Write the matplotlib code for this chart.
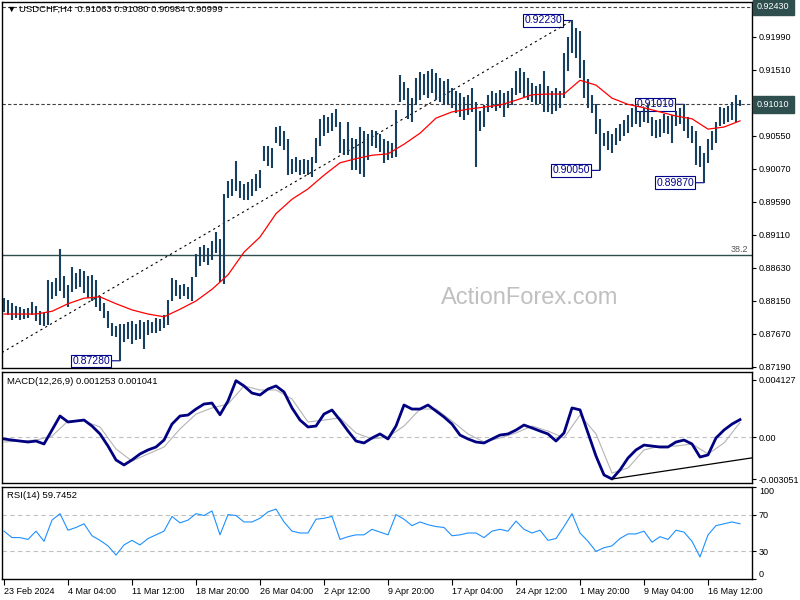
import numpy as np
import matplotlib
matplotlib.use('Agg')
import matplotlib.pyplot as plt
import matplotlib.transforms as mtransforms

plt.rcParams['font.family'] = ['Liberation Sans', 'DejaVu Sans']

# USDCHF H4, one entry per bar pair, prices in pips (x 1e-4)
bar_high = [
    8819, 8816, 8812, 8808, 8806, 8804, 8805, 8814, 8808, 8800, 8798,
    8846, 8842, 8848, 8890, 8852, 8838, 8864, 8856, 8862, 8858,
    8852, 8853, 8845, 8822, 8812, 8800, 8783, 8778, 8782, 8782,
    8785, 8786, 8782, 8788, 8785, 8787, 8785, 8790, 8789, 8795,
    8816, 8848, 8845, 8838, 8840, 8835, 8850, 8884, 8894, 8897,
    8892, 8902, 8915, 8905, 8970, 8990, 8993, 9018, 8990, 8985,
    8988, 8992, 9000, 9005, 9040, 9040, 9038, 9068, 9070, 9062,
    9050, 9022, 9025, 9020, 9022, 9020, 9025, 9052, 9080, 9085,
    9082, 9088, 9094, 9075, 9050, 9075, 9052, 9050, 9068, 9062,
    9058, 9064, 9062, 9058, 9050, 9048, 9045, 9093, 9143, 9133,
    9125, 9110, 9140, 9148, 9145, 9150, 9152, 9146, 9140, 9135,
    9138, 9125, 9120, 9118, 9112, 9115, 9125, 9105, 9092, 9100,
    9115, 9120, 9118, 9122, 9118, 9120, 9125, 9150, 9154, 9148,
    9140, 9132, 9128, 9130, 9150, 9128, 9120, 9125, 9120, 9175,
    9199, 9223, 9212, 9208, 9166, 9138, 9115, 9102, 9080, 9060,
    9062, 9058, 9066, 9072, 9078, 9085, 9095, 9098, 9092, 9096,
    9100, 9082, 9078, 9080, 9087, 9084, 9086, 9092, 9096, 9101,
    9082, 9070, 9062, 9040, 9030, 9050, 9062, 9075, 9097, 9095,
    9098, 9104, 9114, 9108,
]
bar_low = [
    8799, 8795, 8788, 8790, 8787, 8789, 8790, 8795, 8786, 8780, 8778,
    8780, 8818, 8822, 8830, 8820, 8806, 8828, 8832, 8835, 8826,
    8820, 8815, 8806, 8800, 8790, 8775, 8764, 8762, 8728, 8755,
    8760, 8752, 8758, 8760, 8745, 8765, 8768, 8768, 8771, 8775,
    8780, 8815, 8822, 8818, 8822, 8818, 8815, 8850, 8866, 8872,
    8868, 8875, 8885, 8842, 8840, 8965, 8968, 8975, 8965, 8962,
    8962, 8967, 8975, 8980, 9018, 9012, 9008, 9045, 9040, 9035,
    8998, 9000, 9002, 8998, 9000, 8998, 8995, 9015, 9040, 9055,
    9060, 9062, 9068, 9030, 9027, 9028, 9006, 9006, 9000, 8996,
    9020, 9040, 9038, 9032, 9015, 9020, 9023, 9024, 9105, 9108,
    9080, 9075, 9100, 9108, 9115, 9110, 9118, 9108, 9105, 9100,
    9102, 9095, 9088, 9082, 9078, 9085, 9090, 9010, 9062, 9068,
    9090, 9095, 9092, 9095, 9083, 9095, 9100, 9115, 9118, 9112,
    9108, 9105, 9100, 9102, 9090, 9090, 9087, 9092, 9095, 9110,
    9150, 9175, 9168, 9140, 9110, 9095, 9088, 9058, 9005, 9040,
    9035, 9030, 9042, 9048, 9055, 9060, 9068, 9072, 9068, 9075,
    9074, 9055, 9052, 9054, 9060, 9058, 9045, 9070, 9072, 9062,
    9052, 9045, 9013, 9010, 8987, 9015, 9035, 9045, 9070, 9072,
    9075, 9078, 9075, 9098,
]

# moving average, every 4th bar (pips)
ma_line = [
    8796, 8796, 8796, 8800, 8811, 8819, 8821, 8811, 8802, 8796,
    8792, 8803, 8815, 8832, 8853, 8886, 8908, 8942, 8963, 8978,
    8998, 9016, 9022, 9027, 9029, 9043, 9059, 9081, 9090, 9094,
    9097, 9100, 9107, 9115, 9116, 9116, 9136, 9129, 9110, 9101,
    9096, 9090, 9084, 9080, 9065, 9068, 9077,
]

# MACD main line, every 2nd bar (x 1e-3)
macd_line = [
    -0.14, -0.22, -0.29, -0.36, -0.29, -0.50, 0.50, 1.51, 1.08, 1.15,
    1.22, 0.79, 0.22, -0.65, -1.65, -2.01, -1.65, -1.22, -0.93, -0.72,
    -0.22, 0.93, 1.51, 1.58, 2.01, 2.37, 2.44, 1.60, 2.59, 4.05,
    3.67, 3.16, 3.02, 3.45, 3.67, 3.24, 2.09, 1.22, 0.72, 0.79,
    1.65, 1.94, 1.22, 0.43, -0.29, -0.43, -0.07, 0.22, -0.14, 0.79,
    2.30, 2.01, 2.01, 2.30, 1.87, 1.44, 0.93, 0.14, -0.14, -0.36,
    -0.43, -0.14, 0.14, 0.22, 0.50, 0.86, 0.65, 0.43, 0.22, -0.29,
    0.29, 2.09, 1.95, 0.29, -1.37, -2.73, -3.02, -2.37, -1.51, -0.93,
    -0.58, -0.65, -0.72, -0.72, -0.36, -0.22, -0.50, -1.44, -1.29, -0.07,
    0.50, 0.93, 1.25,
]
# MACD signal line, every 4th bar (x 1e-3)
signal_line = [
    -0.36, -0.29, -0.22, 0.07, 1.15, 1.15, 0.72, -0.86, -1.73, -1.22,
    -0.72, 0.58, 1.65, 2.09, 2.37, 3.67, 3.38, 3.38, 2.73, 1.08,
    1.22, 1.37, 0.29, -0.14, 0.00, 0.79, 2.01, 2.01, 1.15, 0.22,
    -0.36, -0.07, 0.29, 0.79, 0.43, -0.07, 1.58, 0.22, -2.59, -2.23,
    -0.93, -0.65, -0.65, -0.50, -1.22, -0.43, 1.04,
]

# RSI(14), every 2nd bar
rsi_line = [
    52, 45, 45, 43, 52, 41, 64, 71, 53, 56,
    60, 47, 42, 36, 26, 37, 42, 37, 44, 48,
    52, 68, 61, 64, 71, 69, 74, 48, 70, 69,
    62, 62, 66, 73, 76, 62, 52, 50, 50, 65,
    66, 68, 43, 46, 48, 48, 54, 51, 48, 70,
    65, 58, 62, 59, 57, 56, 47, 48, 50, 50,
    45, 52, 54, 52, 63, 54, 50, 53, 42, 44,
    57, 71, 50, 41, 30, 34, 36, 44, 49, 49,
    52, 40, 46, 43, 53, 51, 41, 24, 48, 58,
    60, 62, 60,
]

date_labels = ['23 Feb 2024', '4 Mar 04:00', '11 Mar 12:00', '18 Mar 20:00',
               '26 Mar 04:00', '2 Apr 12:00', '9 Apr 20:00', '17 Apr 04:00',
               '24 Apr 12:00', '1 May 20:00', '9 May 04:00', '16 May 12:00']
price_ticks = [0.87190, 0.87670, 0.88150, 0.88630, 0.89110, 0.89590,
               0.90070, 0.90550, 0.91510, 0.91990]

swing_points = [(29, 'low'), (142, 'high'), (149, 'low'), (170, 'high'), (175, 'low')]
level_top = 0.9243
level_mid = 0.9101
fib_382 = 0.8882
trend_bars = [-0.5, 142]
trend_prices = [0.8740, 0.9223]
macd_support_bars = [152, 187]
macd_support_vals = [-0.00302, -0.00150]

hi = np.array(bar_high) / 1e4
lo = np.array(bar_low) / 1e4
bars = np.arange(len(hi))
ma = np.array(ma_line) / 1e4
macd = np.array(macd_line) / 1e3
sig = np.array(signal_line) / 1e3
rsi = np.array(rsi_line)
ma_bars = np.arange(0, len(hi), 4)
sig_bars = np.arange(0, len(hi), 4)
macd_bars = np.arange(0, len(hi), 2)

BAR_COL = '#173f5f'
NAVY = '#00008b'
FS = 6.5


def px_rect(left, top, right, bottom):
    return [left / 800, 1 - bottom / 600, (right - left) / 800, (bottom - top) / 600]


fig = plt.figure(figsize=(8, 6), dpi=100)
ax = fig.add_axes(px_rect(2, 2, 752, 368))
ax_macd = fig.add_axes(px_rect(2, 372, 752, 483))
ax_rsi = fig.add_axes(px_rect(2, 487, 752, 579))

for a in (ax, ax_macd, ax_rsi):
    a.set_xlim(-0.5, 187)
    a.yaxis.tick_right()
    a.tick_params(axis='y', length=3, labelsize=FS, pad=2, colors='black')
    a.tick_params(axis='x', bottom=False, labelbottom=False)
    for s in a.spines.values():
        s.set_linewidth(1.0)
        s.set_color('black')

# ---- price panel
ax.set_ylim(0.87175, 0.92499)
ax.vlines(bars, lo, hi, color=BAR_COL, lw=1.5, zorder=3)
ax.plot(ma_bars, ma, color='red', lw=0.9, zorder=4)
ax.axhline(level_top, color='#404040', lw=0.8, ls=(0, (3, 2)), zorder=2)
ax.axhline(level_mid, color='#404040', lw=0.8, ls=(0, (3, 2)), zorder=2)
ax.axhline(fib_382, color='#2f4f4f', lw=1.0, zorder=2)
ax.plot(trend_bars, trend_prices, color='black', lw=0.8, ls=(0, (2, 3)), zorder=2)
blend = mtransforms.blended_transform_factory(ax.transAxes, ax.transData)
ax.text(0.995, fib_382 + 0.0002, '38.2', transform=blend, ha='right', va='bottom',
        fontsize=FS, color='#555555')
ax.set_yticks(price_ticks)
ax.set_yticklabels([f'{p:.5f}' for p in price_ticks])

for lvl in (level_top, level_mid):
    ax.annotate(f'{lvl:.5f}', xy=(1, lvl), xycoords=('axes fraction', 'data'),
                xytext=(3.6, 0), textcoords='offset points', ha='left', va='center',
                color='white', fontsize=FS, annotation_clip=False,
                bbox=dict(boxstyle='square,pad=0.45', fc='#2f4f4f', ec='#2f4f4f'))

for i, kind in swing_points:
    p = hi[i] if kind == 'high' else lo[i]
    ax.annotate(f'{p:.5f}', xy=(i, p), xytext=(-7.2, 0), textcoords='offset points',
                ha='right', va='center', color=NAVY, fontsize=7.5, zorder=1.5,
                bbox=dict(boxstyle='square,pad=0.12', fc='white', ec=NAVY, lw=0.8),
                arrowprops=dict(arrowstyle='-', color=NAVY, lw=0.8, shrinkA=0, shrinkB=0))

ax.text(0.704, 0.19, 'ActionForex.com', transform=ax.transAxes, ha='center',
        va='center', fontsize=17, color='#c0c0c0', zorder=1)

# ---- MACD panel
ax_macd.set_ylim(-0.003307, 0.004674)
ax_macd.axhline(0, color='#c0c0c0', lw=0.8, ls=(0, (4, 3)))
ax_macd.plot(sig_bars, sig, color='#b4b4b4', lw=0.8)
ax_macd.plot(macd_bars, macd, color='#000080', lw=2.0)
ax_macd.plot(macd_support_bars, macd_support_vals, color='black', lw=0.9)
ax_macd.set_yticks([0.004127, 0.0, -0.003051])
ax_macd.set_yticklabels(['0.004127', '0.00', '-0.003051'])

# ---- RSI panel
ax_rsi.set_ylim(0, 100)
for lvl in (70, 30):
    ax_rsi.axhline(lvl, color='#c0c0c0', lw=0.8, ls=(0, (4, 3)))
ax_rsi.plot(macd_bars, rsi, color='#1e90ff', lw=0.8)
ax_rsi.set_yticks([100, 70, 30, 0])
ax_rsi.set_yticklabels(['100', '70', '30', '0'])
ylabs = ax_rsi.get_yticklabels()
ylabs[0].set_va('top')
ylabs[3].set_va('bottom')

ax_rsi.tick_params(axis='x', bottom=True, labelbottom=True, length=4, labelsize=FS, pad=2)
ax_rsi.set_xticks(np.arange(0, 16 * len(date_labels), 16))
ax_rsi.set_xticklabels(date_labels, ha='left')

# titles
fig.text(7 / 800, 1 - 9 / 600, '\u25bc USDCHF,H4  0.91063 0.91080 0.90984 0.90999',
         fontsize=6.8, va='center', ha='left')
fig.text(7 / 800, 1 - 381 / 600, 'MACD(12,26,9) 0.001253 0.001041',
         fontsize=6.8, va='center', ha='left')
fig.text(7 / 800, 1 - 496 / 600, 'RSI(14) 59.7452', fontsize=6.8, va='center', ha='left')

fig.savefig('out.png', dpi=100)
